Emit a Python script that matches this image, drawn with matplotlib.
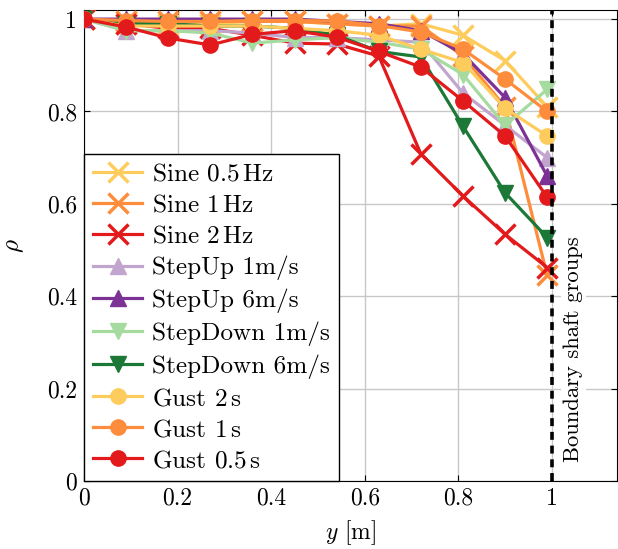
import matplotlib
matplotlib.use("Agg")
import matplotlib.pyplot as plt

plt.rcParams['font.family'] = ['cmr10', 'DejaVu Serif']
plt.rcParams['mathtext.fontset'] = 'cm'
plt.rcParams['axes.formatter.use_mathtext'] = True
plt.rcParams['font.size'] = 17

# positions along the blade (m)
y_pos = [0.0, 0.09, 0.18, 0.27, 0.36, 0.45, 0.54, 0.63, 0.72, 0.81, 0.90, 0.99]

sine_05 = [1.0, 0.99, 0.99, 0.99, 0.995, 0.995, 0.99, 0.985, 0.99, 0.965, 0.91, 0.81]
sine_1 = [1.0, 0.995, 0.995, 0.995, 0.995, 0.995, 0.99, 0.985, 0.985, 0.92, 0.81, 0.445]
sine_2 = [1.0, 0.99, 0.98, 0.98, 0.965, 0.948, 0.946, 0.92, 0.708, 0.617, 0.534, 0.462]
stepup_1 = [1.0, 0.975, 0.975, 0.975, 0.97, 0.96, 0.96, 0.955, 0.95, 0.84, 0.77, 0.70]
stepup_6 = [1.0, 1.0, 1.0, 1.0, 1.0, 1.0, 0.995, 0.99, 0.975, 0.925, 0.83, 0.66]
stepdown_1 = [1.0, 0.975, 0.975, 0.97, 0.948, 0.955, 0.96, 0.95, 0.935, 0.88, 0.77, 0.848]
stepdown_6 = [1.0, 0.99, 0.99, 0.985, 0.985, 0.98, 0.965, 0.93, 0.918, 0.768, 0.624, 0.527]
gust_2 = [1.0, 0.985, 0.985, 0.985, 0.985, 0.98, 0.975, 0.965, 0.935, 0.906, 0.807, 0.747]
gust_1 = [1.0, 0.997, 0.995, 0.995, 0.997, 0.997, 0.996, 0.986, 0.972, 0.935, 0.87, 0.80]
gust_05 = [1.0, 0.983, 0.959, 0.944, 0.967, 0.975, 0.961, 0.93, 0.896, 0.823, 0.747, 0.614]

series = [
    (sine_05, r"Sine 0.5$\,$Hz", "#fecc5c", "x"),
    (sine_1, r"Sine 1$\,$Hz", "#fd8d3c", "x"),
    (sine_2, r"Sine 2$\,$Hz", "#e31a1c", "x"),
    (stepup_1, "StepUp 1m/s", "#c2a5cf", "^"),
    (stepup_6, "StepUp 6m/s", "#7b3294", "^"),
    (stepdown_1, "StepDown 1m/s", "#a6dba0", "v"),
    (stepdown_6, "StepDown 6m/s", "#1b7837", "v"),
    (gust_2, r"Gust 2$\,$s", "#fecc5c", "o"),
    (gust_1, r"Gust 1$\,$s", "#fd8d3c", "o"),
    (gust_05, r"Gust 0.5$\,$s", "#e31a1c", "o"),
]

fig = plt.figure(figsize=(6.18, 5.49), dpi=100)
ax = fig.add_axes([0.136, 0.124, 0.863, 0.858])

for vals, lab, col, mk in series:
    if mk == "x":
        ax.plot(y_pos, vals, color=col, lw=2.3, marker="x", ms=14, mew=2.5, label=lab, zorder=3)
    else:
        ax.plot(y_pos, vals, color=col, lw=2.3, marker=mk, ms=11, label=lab, zorder=3)

ax.axvline(1.0, color="black", lw=2.6, ls=(0, (2.2, 1.6)), zorder=4)
ax.text(1.046, 0.04, "Boundary shaft groups", rotation=90, ha="center", va="bottom",
        fontsize=16.3, zorder=5,
        bbox=dict(facecolor="white", edgecolor="none", pad=2))

ax.set_xlim(0, 1.14)
ax.set_ylim(0, 1.02)
ax.set_xticks([0, 0.2, 0.4, 0.6, 0.8, 1.0])
ax.set_xticklabels(["0", "0.2", "0.4", "0.6", "0.8", "1"])
ax.set_yticks([0, 0.2, 0.4, 0.6, 0.8, 1.0])
ax.set_yticklabels(["0", "0.2", "0.4", "0.6", "0.8", "1"])
ax.tick_params(direction="in", top=True, right=True, length=4, labelsize=17, pad=5)
ax.grid(True, color="#c8c8c8", lw=1.0, zorder=0)
ax.set_axisbelow(True)

ax.set_xlabel(r"$y$ [m]", fontsize=17, labelpad=6)
ax.set_ylabel(r"$\rho$", fontsize=18, labelpad=15)

leg = ax.legend(loc="lower left", fontsize=18.2, fancybox=False, framealpha=1,
                edgecolor="black", borderaxespad=0, handlelength=1.95,
                handletextpad=0.4, labelspacing=0.33, borderpad=0.35)
leg.get_frame().set_linewidth(1.0)
leg.set_zorder(6)

fig.savefig("out.png", dpi=100)
